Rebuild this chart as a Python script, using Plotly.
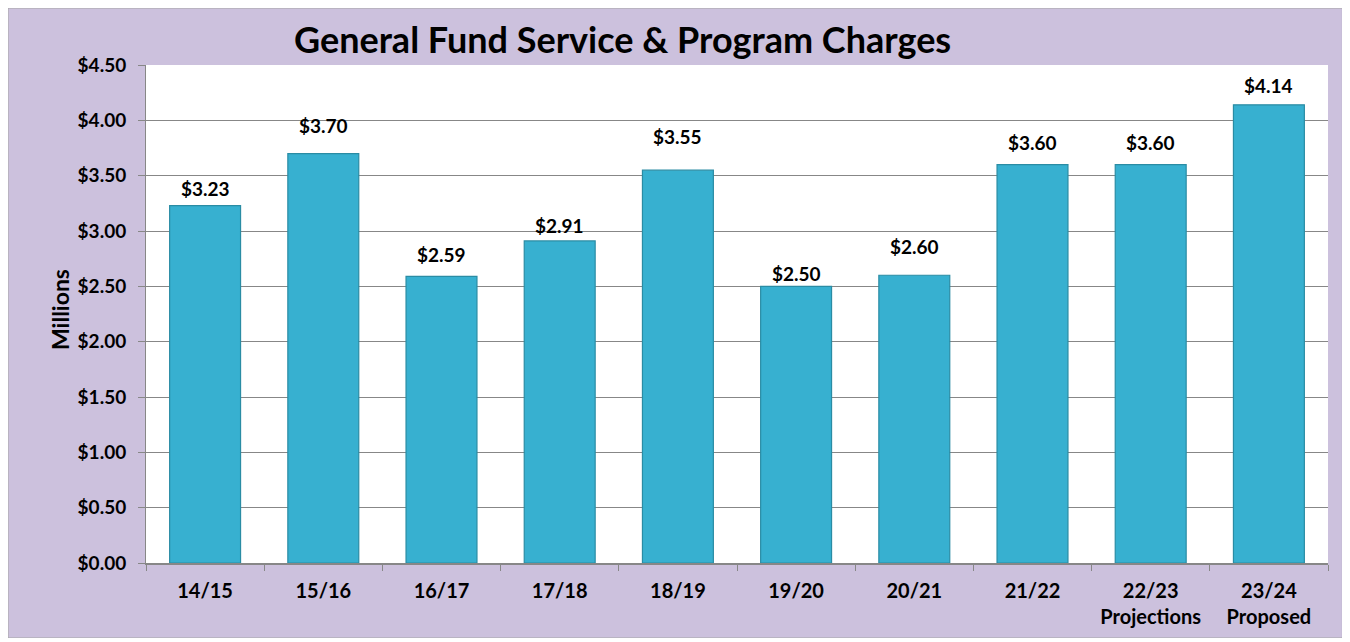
import plotly.graph_objects as go

categories = ["14/15", "15/16", "16/17", "17/18", "18/19", "19/20", "20/21", "21/22",
              "22/23<br>Projections", "23/24<br>Proposed"]
values = [3.23, 3.70, 2.59, 2.91, 3.55, 2.50, 2.60, 3.60, 3.60, 4.14]
value_labels = ["$3.23", "$3.70", "$2.59", "$2.91", "$3.55", "$2.50", "$2.60", "$3.60", "$3.60", "$4.14"]
y_ticks = [0, 0.5, 1.0, 1.5, 2.0, 2.5, 3.0, 3.5, 4.0, 4.5]
y_tick_labels = ["$0.00", "$0.50", "$1.00", "$1.50", "$2.00", "$2.50", "$3.00", "$3.50", "$4.00", "$4.50"]
# vertical gap (px) between bar top and its label, as placed in the original
label_gaps = [9, 20, 14, 7, 26, 5, 21, 14, 14, 11]

FONT = "Lato"
LAV = "#CCC1DD"

# page offset of the figure (default body margin)
OFF = 8
W, H = 1335, 630
L, R, T, B = 138, 15, 57, 75
pw, ph = W - L - R, H - T - B

def px_x(page_x):
    return (page_x - OFF - L) / pw

def px_y(page_y):
    return (H - B - (page_y - OFF)) / ph

fig = go.Figure()
fig.add_trace(go.Bar(
    x=categories, y=values, width=0.6,
    marker=dict(color="#37B0D0", line=dict(color="#2A8CA4", width=1.2)),
    hoverinfo="x+y", showlegend=False,
))

for c, v, t, g in zip(categories, values, value_labels, label_gaps):
    fig.add_annotation(x=c, y=v, text="<b>%s</b>" % t, showarrow=False,
                       yanchor="middle", yshift=g + 8,
                       font=dict(family=FONT, size=19, color="#000000"))

# frame border
fig.add_shape(type="rect", xref="paper", yref="paper",
              x0=-L / pw, x1=1 + R / pw - 0.0005, y0=-B / ph, y1=1 + T / ph,
              fillcolor=LAV, line=dict(color="#A6A6A6", width=1), layer="below")
# white plot area
fig.add_shape(type="rect", xref="paper", yref="paper",
              x0=0, x1=1, y0=0, y1=1,
              fillcolor="#FFFFFF", line=dict(width=0), layer="below")

fig.add_annotation(xref="paper", yref="paper", x=px_x(622), y=px_y(39),
                   text="<b>General Fund Service & Program Charges</b>", showarrow=False,
                   xanchor="center", yanchor="middle",
                   font=dict(family=FONT, size=36, color="#000000"))
fig.add_annotation(xref="paper", yref="paper", x=px_x(60), y=px_y(310),
                   text="<b>Millions</b>", showarrow=False, textangle=-90,
                   xanchor="center", yanchor="middle",
                   font=dict(family=FONT, size=23, color="#000000"))

fig.update_layout(
    width=W, height=H,
    margin=dict(l=L, r=R, t=T, b=B, autoexpand=False),
    paper_bgcolor=LAV, plot_bgcolor="rgba(0,0,0,0)",
    font=dict(family=FONT, color="#000000"),
    bargap=0.4,
)
fig.update_yaxes(range=[0, 4.5], tickvals=y_ticks, ticktext=["<b>%s</b>" % s for s in y_tick_labels],
                 tickfont=dict(family=FONT, size=19, color="#000000"),
                 showgrid=True, gridcolor="#878787", gridwidth=1,
                 showline=True, linecolor="#878787", linewidth=1,
                 ticks="outside", ticklen=7, tickcolor="#878787", ticklabelstandoff=8,
                 zeroline=False, fixedrange=True, automargin=False)
fig.update_xaxes(ticktext=["<b>%s</b>" % c for c in categories], tickvals=categories,
                 tickfont=dict(family=FONT, size=20, color="#000000"),
                 showline=True, linecolor="#878787", linewidth=1.5,
                 ticks="outside", ticklen=6, tickcolor="#878787", tickson="boundaries",
                 ticklabelstandoff=9,
                 showgrid=False, fixedrange=True, automargin=False)

fig.write_html("out.html")
